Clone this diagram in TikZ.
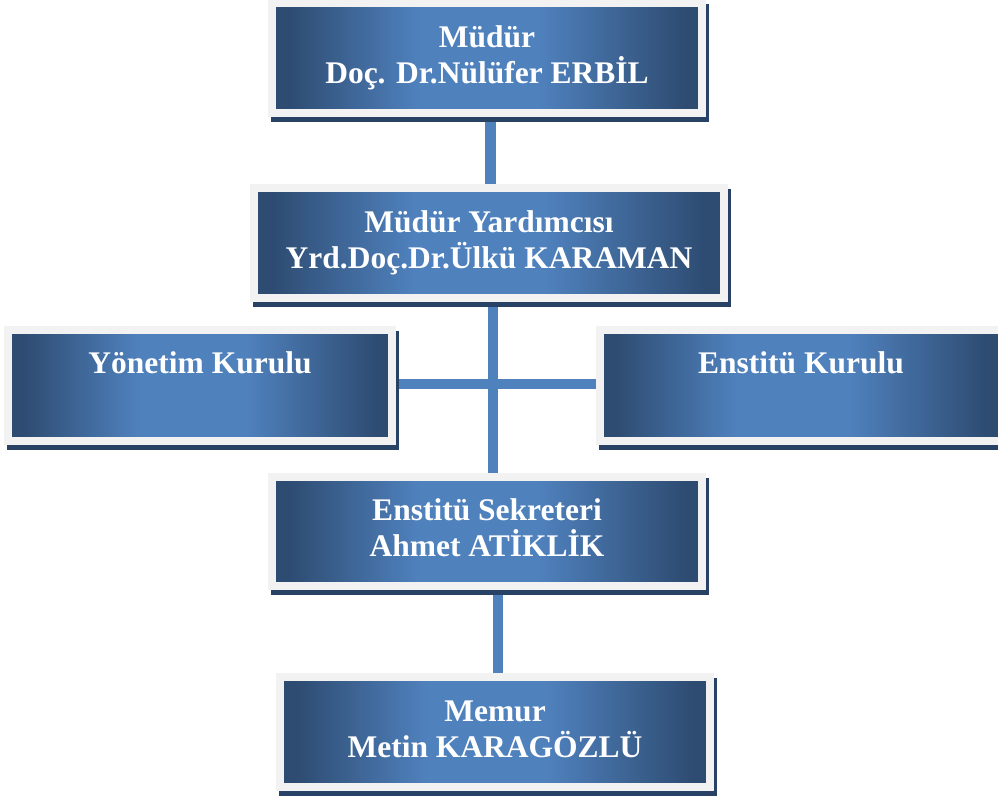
\documentclass[tikz,border=0pt]{standalone}
\usepackage{fontspec}
\setmainfont{Liberation Serif}
\usetikzlibrary{backgrounds}
\definecolor{boxdark}{RGB}{46,76,114}
\definecolor{boxlight}{RGB}{79,129,189}
\definecolor{shadowblue}{RGB}{40,66,102}
\definecolor{framegray}{RGB}{242,242,242}
\definecolor{connblue}{RGB}{79,129,189}
\pgfdeclarehorizontalshading{boxshade}{100bp}{color(0bp)=(boxdark); color(27bp)=(boxdark); color(42bp)=(boxlight); color(56bp)=(boxlight); color(73bp)=(boxdark); color(100bp)=(boxdark)}
\newcommand{\twol}[2]{\rule{0pt}{28pt}#1\\#2\rule[-14pt]{0pt}{14pt}}
\begin{document}
\begin{tikzpicture}[x=1pt,y=-1pt,
  orgbox/.style={draw=framegray, line width=8pt, shading=boxshade, inner sep=0pt,
    text=white, font=\bfseries\fontsize{31.5}{36}\selectfont, align=center,
    preaction={draw=shadowblue, fill=shadowblue, line width=8pt,
      transform canvas={shift={(3pt,-5pt)}}}},
  onel/.style={text height=28pt, text depth=53pt},
  conn/.style={draw=connblue, line width=10pt}]
\useasboundingbox (0,0) rectangle (998,798);
\clip (0,0) rectangle (998,798);

\node[orgbox, minimum width=430pt, minimum height=110pt] (b1) at (487,58)
  {\twol{Müdür}{Doç. Dr.Nülüfer ERBİL}};
\node[orgbox, minimum width=470pt, minimum height=110pt] (b2) at (489,243)
  {\twol{Müdür Yardımcısı}{Yrd.Doç.Dr.Ülkü KARAMAN}};
\node[orgbox, onel, minimum width=384pt, minimum height=111pt] (b3) at (200,385.5)
  {Yönetim Kurulu};
\node[orgbox, onel, minimum width=402pt, minimum height=111pt] (b4) at (801,385.5)
  {Enstitü Kurulu};
\node[orgbox, minimum width=430pt, minimum height=109pt] (b5) at (487,531.5)
  {\twol{Enstitü Sekreteri}{Ahmet ATİKLİK}};
\node[orgbox, minimum width=430pt, minimum height=110pt] (b6) at (495,732)
  {\twol{Memur}{Metin KARAGÖZLÜ}};

\begin{scope}[on background layer]
\draw[conn, line width=11pt] ([xshift=3.5pt]b1.center) -- ([xshift=1.5pt]b2.center);
\draw[conn] ([xshift=4pt]b2.center) -- ([xshift=6pt]b5.center);
\draw[conn] ([yshift=1.5pt]b3.center) -- ([yshift=1.5pt]b4.center);
\draw[conn] ([xshift=11pt]b5.center) -- ([xshift=3pt]b6.center);
\end{scope}
\end{tikzpicture}
\end{document}
